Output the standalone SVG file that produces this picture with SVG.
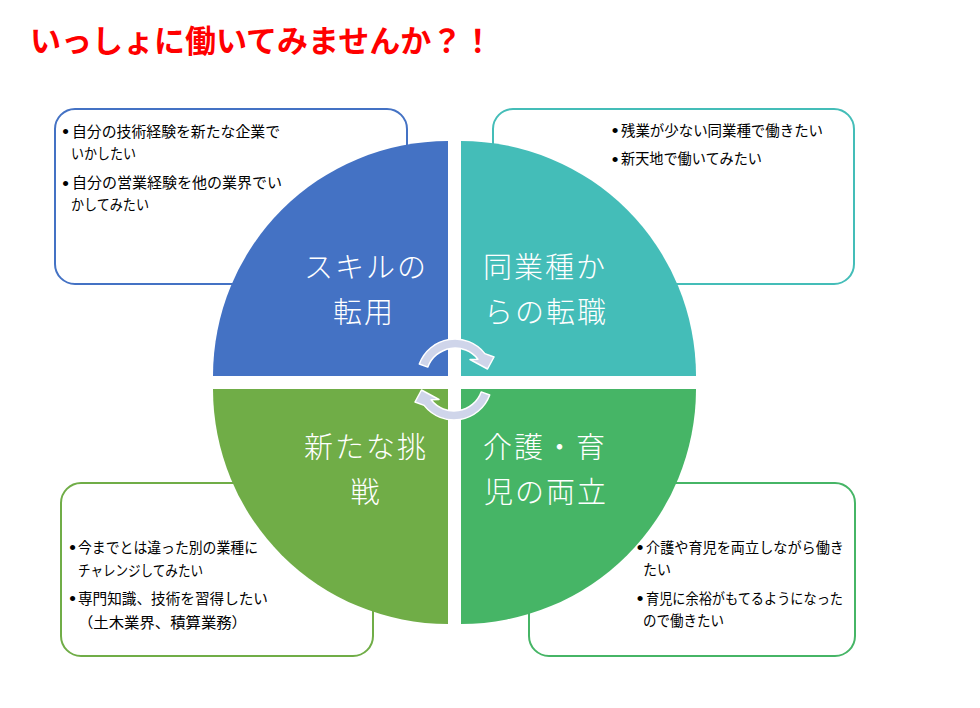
<svg xmlns="http://www.w3.org/2000/svg" width="980" height="708" viewBox="0 0 980 708">
<style>
.title{font-family:"Noto Sans CJK JP","Noto Sans CJK SC",sans-serif;font-weight:700;font-size:31px;fill:#FF0000}
.box{fill:#FFFFFF;stroke-width:2}
.bt{font-family:"Noto Sans CJK JP","Noto Sans CJK SC",sans-serif;font-size:14.7px;fill:#000000}
.bul{font-family:"Liberation Sans",sans-serif;font-size:19px;fill:#000000;text-anchor:middle}
.ql{font-family:"Noto Sans CJK JP","Noto Sans CJK SC",sans-serif;font-weight:300;font-size:29px;fill:#FFFFFF;text-anchor:middle;letter-spacing:2px}
.arr{fill:#CFD5EA;stroke:#FFFFFF;stroke-width:1.5;stroke-linejoin:round}
</style>
<rect width="980" height="708" fill="#FFFFFF"/>
<g id="title"><text class="title" x="30" y="52">いっしょに働いてみませんか？！</text></g>

<g id="box-skill">
<rect class="box" x="55" y="109" width="352" height="175" rx="20" stroke="#4472C4"/>
<text class="bul" x="65.5" y="138">•</text><text class="bt" x="72" y="136.5" textLength="208" lengthAdjust="spacingAndGlyphs">自分の技術経験を新たな企業で</text>
<text class="bt" x="71" y="159" textLength="65" lengthAdjust="spacingAndGlyphs">いかしたい</text>
<text class="bul" x="65.5" y="189.5">•</text><text class="bt" x="72" y="188" textLength="210" lengthAdjust="spacingAndGlyphs">自分の営業経験を他の業界でい</text>
<text class="bt" x="71" y="209.5" textLength="78" lengthAdjust="spacingAndGlyphs">かしてみたい</text>
</g>
<g id="box-same">
<rect class="box" x="493" y="109" width="361" height="175" rx="20" stroke="#44BDB8"/>
<text class="bul" x="615" y="137">•</text><text class="bt" x="621" y="135.5" textLength="202" lengthAdjust="spacingAndGlyphs">残業が少ない同業種で働きたい</text>
<text class="bul" x="615" y="165.5">•</text><text class="bt" x="621" y="164" textLength="141" lengthAdjust="spacingAndGlyphs">新天地で働いてみたい</text>
</g>
<g id="box-new">
<rect class="box" x="61" y="483" width="312" height="173" rx="20" stroke="#70AD47"/>
<text class="bul" x="72.5" y="554">•</text><text class="bt" x="78" y="552.5" textLength="180" lengthAdjust="spacingAndGlyphs">今までとは違った別の業種に</text>
<text class="bt" x="78" y="575.5" textLength="125" lengthAdjust="spacingAndGlyphs">チャレンジしてみたい</text>
<text class="bul" x="72.5" y="605">•</text><text class="bt" x="78" y="603.5" textLength="190" lengthAdjust="spacingAndGlyphs">専門知識、技術を習得したい</text>
<text class="bt" x="78" y="627.5" textLength="169" lengthAdjust="spacingAndGlyphs">（土木業界、積算業務）</text>
</g>
<g id="box-care">
<rect class="box" x="529" y="483" width="326" height="173" rx="20" stroke="#46B566"/>
<text class="bul" x="640" y="554">•</text><text class="bt" x="646" y="552.5" textLength="198" lengthAdjust="spacingAndGlyphs">介護や育児を両立しながら働き</text>
<text class="bt" x="643" y="574.5" textLength="28" lengthAdjust="spacingAndGlyphs">たい</text>
<text class="bul" x="640" y="605">•</text><text class="bt" x="646" y="603.5" textLength="197" lengthAdjust="spacingAndGlyphs">育児に余裕がもてるようになった</text>
<text class="bt" x="643" y="625.5" textLength="81" lengthAdjust="spacingAndGlyphs">ので働きたい</text>
</g>

<g id="quad-skill">
<path d="M448,376 L213,376 A235,235 0 0 1 448,141 Z" fill="#4472C4"/>
<text class="ql" x="366" y="278">スキルの</text>
<text class="ql" x="364" y="323">転用</text>
</g>
<g id="quad-same">
<path d="M461,376 L461,141 A235,235 0 0 1 696,376 Z" fill="#44BDB8"/>
<text class="ql" x="545" y="278">同業種か</text>
<text class="ql" x="546" y="323">らの転職</text>
</g>
<g id="quad-new">
<path d="M448,389 L448,624 A235,235 0 0 1 213,389 Z" fill="#70AD47"/>
<text class="ql" x="366" y="458">新たな挑</text>
<text class="ql" x="366" y="503">戦</text>
</g>
<g id="quad-care">
<path d="M461,389 L696,389 A235,235 0 0 1 461,624 Z" fill="#46B566"/>
<text class="ql" x="545" y="458">介護・育</text>
<text class="ql" x="546" y="503">児の両立</text>
</g>

<g id="connectors">
<path id="arrow-top" class="arr" d="M419.3,364 A38,38 0 0 1 484.9,353.6 L494,357 L487.5,369 L470,359.5 L477.9,359.2 A29,29 0 0 0 427.8,367.1 Z"/>
<path id="arrow-bottom" class="arr" transform="rotate(180 454.5 379.5)" d="M419.3,364 A38,38 0 0 1 484.9,353.6 L494,357 L487.5,369 L470,359.5 L477.9,359.2 A29,29 0 0 0 427.8,367.1 Z"/>
</g>
</svg>
